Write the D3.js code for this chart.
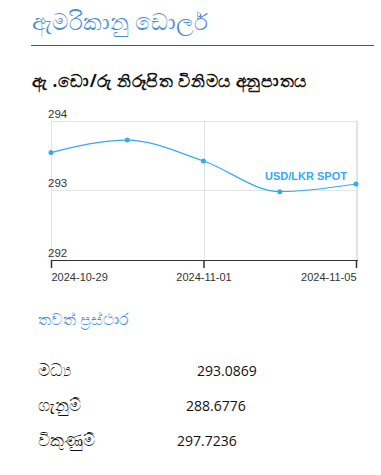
<!DOCTYPE html>
<html><head><meta charset="utf-8">
<script src="https://cdn.jsdelivr.net/npm/d3@7"></script>
<style>
html,body{margin:0;padding:0;background:#fff;}
svg{display:block;font-family:"Open Sans","Noto Sans",sans-serif;}
</style></head>
<body>
<svg id="c" width="381" height="475"></svg>
<script>
const title = "ඇමරිකානු ඩොලර්";
const subtitle = "ඇ .ඩො/රු නිරූපිත විනිමය අනුපාතය";
const moreLabel = "තවත් ප්‍රස්ථාර";
const dates = ["2024-10-29","2024-10-31","2024-11-01","2024-11-04","2024-11-05"];
const rates = [293.54, 293.72, 293.42, 292.98, 293.09];
const tickDates = ["2024-10-29","2024-11-01","2024-11-05"];
const yTicks = [292, 293, 294];
const seriesName = "USD/LKR SPOT";
const statLabels = ["මධ්‍ය","ගැනුම්","විකුණුම්"];
const statValues = ["293.0869","288.6776","297.7236"];

const svg = d3.select("#c");
const headBlue = "#4a8fd6";

svg.append("text").attr("x",32).attr("y",30).attr("font-size",23)
  .attr("fill",headBlue).text(title);
svg.append("line").attr("x1",31).attr("x2",374).attr("y1",45.5).attr("y2",45.5)
  .attr("stroke","#555").attr("stroke-width",1);
svg.append("text").attr("x",32).attr("y",87).attr("font-size",17).attr("font-weight","bold")
  .attr("letter-spacing",0.6).attr("fill","#111").text(subtitle);

const L=51, R=356, T=120.5, B=260;
const x = d3.scalePoint().domain(dates).range([L,R]);
const y = d3.scaleLinear().domain([292,294]).range([B,T]);

const g = svg.append("g");
g.selectAll(".hg").data(yTicks.filter(d=>d!==292)).join("line")
  .attr("x1",L).attr("x2",R+1).attr("y1",d=>Math.round(y(d))+0.5).attr("y2",d=>Math.round(y(d))+0.5)
  .attr("stroke","#e3e3e3");
g.selectAll(".vg").data(tickDates).join("line")
  .attr("x1",d=>Math.round(x(d))+0.5).attr("x2",d=>Math.round(x(d))+0.5)
  .attr("y1",T).attr("y2",B).attr("stroke","#e3e3e3");
g.append("line").attr("x1",R+1.5).attr("x2",R+1.5).attr("y1",T).attr("y2",B).attr("stroke","#e3e3e3");

g.selectAll(".yl").data(yTicks).join("text")
  .attr("x",48).attr("y",d=>y(d)-3).attr("font-size",11.5).attr("fill","#333")
  .attr("font-family","Liberation Sans, Arial, sans-serif").text(d=>d);

const xa = svg.append("g").attr("transform",`translate(0,${B})`)
  .call(d3.axisBottom(x).tickValues(tickDates).tickSize(8).tickSizeOuter(0));
xa.select(".domain").attr("stroke","#333").attr("d",`M${L},0.5H${R+2}`);
xa.selectAll(".tick line").attr("stroke","#333").attr("stroke-width",1.5);
xa.selectAll(".tick text").attr("font-size",11).attr("fill","#333")
  .attr("font-family","Liberation Sans, Arial, sans-serif").attr("dy","0.9em")
  .attr("text-anchor",(d,i)=> i===0?"start":(i===tickDates.length-1?"end":"middle"));

const data = dates.map((d,i)=>({d,v:rates[i]}));
const lineColor = "#36aaf2";
svg.append("path").datum(data)
  .attr("d",d3.line().x(p=>x(p.d)).y(p=>y(p.v)).curve(d3.curveMonotoneX))
  .attr("fill","none").attr("stroke",lineColor).attr("stroke-width",1.2);
svg.selectAll(".pt").data(data).join("circle")
  .attr("cx",p=>x(p.d)).attr("cy",p=>y(p.v)).attr("r",2.5).attr("fill",lineColor);
svg.append("text").attr("x",347).attr("y",180).attr("text-anchor","end")
  .attr("font-size",11).attr("font-weight","bold").attr("fill",lineColor)
  .attr("font-family","Liberation Sans, Arial, sans-serif").text(seriesName);

svg.append("text").attr("x",38).attr("y",325).attr("font-size",16)
  .attr("fill",headBlue).text(moreLabel);
const rowY = [376, 411, 446];
const valX = [197, 186, 177];
statLabels.forEach((lab,i)=>{
  svg.append("text").attr("x",38).attr("y",rowY[i]).attr("font-size",17).attr("fill","#111").text(lab);
  svg.append("text").attr("x",valX[i]).attr("y",rowY[i]).attr("font-size",14).attr("fill","#111").text(statValues[i]);
});
</script>
</body></html>
